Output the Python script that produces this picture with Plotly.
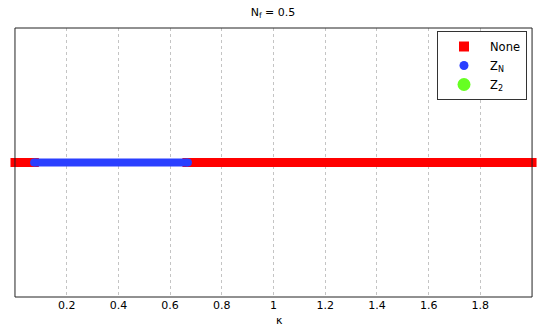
import plotly.graph_objects as go

# Phase segments along kappa
none_seg1 = [0.0, 0.075]
none_seg2 = [0.665, 2.0]
zn_seg = [0.074, 0.669]
phase_y = 0.0
tick_vals = [0.2, 0.4, 0.6, 0.8, 1.0, 1.2, 1.4, 1.6, 1.8]
tick_text = ["0.2", "0.4", "0.6", "0.8", "1", "1.2", "1.4", "1.6", "1.8"]

RED = "#ff0000"
BLUE = "#2a3fff"
GREEN = "#66ff22"
FONT = "DejaVu Sans, Liberation Sans, Arial, sans-serif"

fig = go.Figure()

for seg in (none_seg1, none_seg2):
    fig.add_trace(go.Scatter(
        x=seg, y=[phase_y, phase_y], mode="lines+markers",
        line=dict(color=RED, width=9),
        marker=dict(symbol="square", size=9, color=RED, line=dict(width=0)),
        cliponaxis=False, showlegend=False, hoverinfo="skip"))

fig.add_trace(go.Scatter(
    x=zn_seg, y=[phase_y, phase_y], mode="lines+markers",
    line=dict(color=BLUE, width=8),
    marker=dict(symbol="circle", size=8, color=BLUE, line=dict(width=0)),
    cliponaxis=False, showlegend=False, hoverinfo="skip"))

# legend-only entries
fig.add_trace(go.Scatter(x=[None], y=[None], mode="markers", name="None",
                         marker=dict(symbol="square", size=10, color=RED)))
fig.add_trace(go.Scatter(x=[None], y=[None], mode="markers", name="Z<sub>N</sub>",
                         marker=dict(symbol="circle", size=9, color=BLUE)))
fig.add_trace(go.Scatter(x=[None], y=[None], mode="markers", name="Z<sub>2</sub>",
                         marker=dict(symbol="circle", size=13, color=GREEN)))

# axes frame
fig.add_shape(type="rect", xref="x", yref="paper", x0=0, x1=2, y0=0, y1=1,
              line=dict(color="#222", width=1), layer="above")

fig.add_annotation(text="κ", xref="paper", yref="paper",
                   x=(279 - 8) / 530, y=-(320 - 297) / 269,
                   xanchor="center", yanchor="middle", showarrow=False,
                   font=dict(size=11))

fig.update_layout(
    width=545, height=327,
    margin=dict(l=8, r=7, t=28, b=30, autoexpand=False),
    paper_bgcolor="white", plot_bgcolor="white",
    font=dict(family=FONT, size=11, color="black"),
    title=dict(text="N<sub>f</sub> = 0.5", x=273/545, xanchor="center",
               y=1 - 12/327, yanchor="middle", font=dict(size=11)),
    xaxis=dict(range=[-0.027, 2.023], tickvals=tick_vals, ticktext=tick_text,
               showgrid=True, gridcolor="#c4c4c4", griddash="dot", gridwidth=1,
               zeroline=False, showline=False, ticks="",
               tickfont=dict(size=11)),
    yaxis=dict(range=[-1, 1], visible=False, showgrid=False, zeroline=False),
    legend=dict(x=(527 - 8) / 530, xanchor="right", y=1 - 3/269, yanchor="top",
                bordercolor="#333", borderwidth=1,
                bgcolor="white", font=dict(size=11.5), tracegroupgap=0,
                itemwidth=42),
    showlegend=True,
)

fig.write_html("out.html", config={"displayModeBar": False},
               post_script="document.body.style.margin='0';document.body.style.padding='0';")
